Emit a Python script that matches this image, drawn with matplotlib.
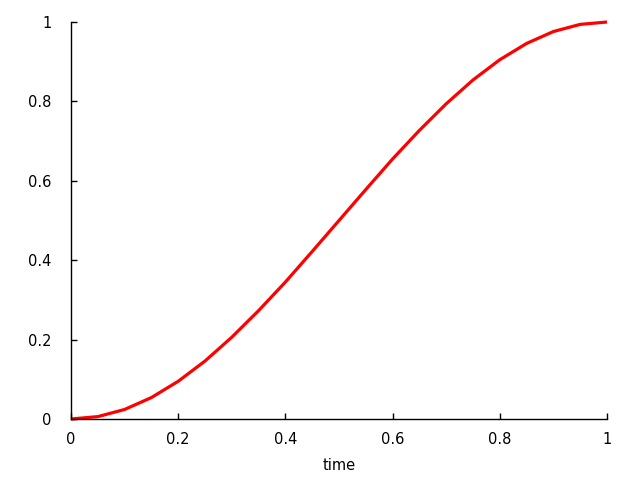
import matplotlib
matplotlib.use('Agg')
import matplotlib.pyplot as plt

# values
time = [0.0, 0.05, 0.1, 0.15, 0.2, 0.25, 0.3, 0.35, 0.4, 0.45, 0.5,
        0.55, 0.6, 0.65, 0.7, 0.75, 0.8, 0.85, 0.9, 0.95, 1.0]
value = [0.0, 0.006, 0.024, 0.054, 0.095, 0.146, 0.206, 0.273, 0.345, 0.422, 0.5,
         0.578, 0.655, 0.727, 0.794, 0.854, 0.905, 0.946, 0.976, 0.994, 1.0]
x_ticks = [0, 0.2, 0.4, 0.6, 0.8, 1]
y_ticks = [0, 0.2, 0.4, 0.6, 0.8, 1]
tick_labels = ['0', '0.2', '0.4', '0.6', '0.8', '1']

plt.rcParams['font.family'] = ['DejaVu Sans']

fig = plt.figure(figsize=(6.4, 4.8), dpi=100)
ax = fig.add_axes([71 / 640, 61 / 480, 536 / 640, 397 / 480])

ax.plot(time, value, color='#ff0000', linewidth=2.3, clip_on=False,
        solid_capstyle='butt')

ax.set_xlim(0, 1)
ax.set_ylim(0, 1)

# only left and bottom border
ax.spines['top'].set_visible(False)
ax.spines['right'].set_visible(False)
for s in ('left', 'bottom'):
    ax.spines[s].set_linewidth(1.0)
    ax.spines[s].set_color('black')

ax.set_xticks(x_ticks)
ax.set_xticklabels(tick_labels)
ax.set_yticks(y_ticks)
ax.set_yticklabels(tick_labels)
ax.tick_params(axis='both', direction='in', length=4, width=1, labelsize=10.5,
               colors='black')
ax.tick_params(axis='x', pad=9)
ax.tick_params(axis='y', pad=14)

ax.set_xlabel('time', fontsize=10.5, labelpad=8)

fig.savefig('out.png', dpi=100)
